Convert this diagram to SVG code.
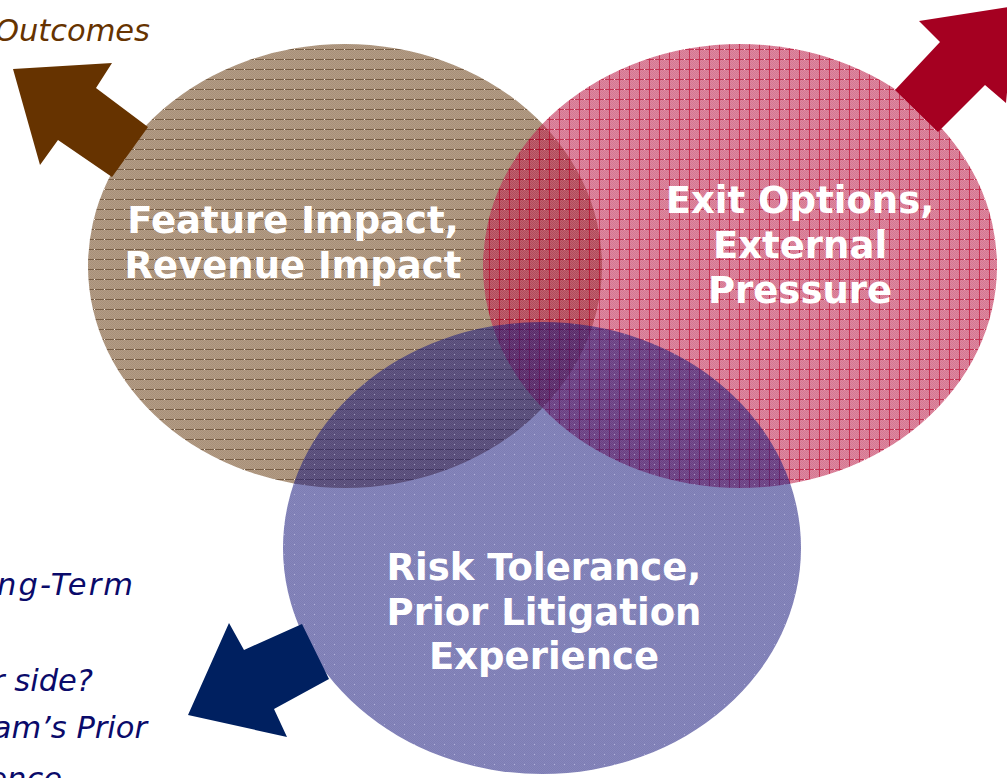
<svg xmlns="http://www.w3.org/2000/svg" width="1007" height="778" viewBox="0 0 1007 778">
  <style>
    .lbl { font-family: "DejaVu Sans", Verdana, sans-serif; font-weight: bold; font-size: 37px; fill: #ffffff; text-anchor: middle; }
    .note { font-family: "DejaVu Sans", Verdana, sans-serif; font-style: italic; font-size: 30.5px; text-anchor: end; }
    .brownNote { fill: #663300; }
    .blueNote { fill: #0a0a6a; }
  </style>
  <defs>
    <!-- fine halftone checkers (one translucent layer per pixel) -->
    <pattern id="chkBrown" width="2" height="2" patternUnits="userSpaceOnUse">
      <g fill-opacity="0.6">
        <rect width="1" height="1" fill="#6e4620"/>
        <rect x="1" width="1" height="1" fill="#7f5932"/>
        <rect y="1" width="1" height="1" fill="#7f5932"/>
        <rect x="1" y="1" width="1" height="1" fill="#6e4620"/>
      </g>
    </pattern>
    <pattern id="chkRed" width="2" height="2" patternUnits="userSpaceOnUse">
      <g fill-opacity="0.6">
        <rect width="1" height="1" fill="#b71e49"/>
        <rect x="1" width="1" height="1" fill="#c8375d"/>
        <rect y="1" width="1" height="1" fill="#c8375d"/>
        <rect x="1" y="1" width="1" height="1" fill="#b71e49"/>
      </g>
    </pattern>
    <pattern id="chkBlue" width="2" height="2" patternUnits="userSpaceOnUse">
      <g fill-opacity="0.54">
        <rect width="1" height="1" fill="#0e0e74"/>
        <rect x="1" width="1" height="1" fill="#202082"/>
        <rect y="1" width="1" height="1" fill="#202082"/>
        <rect x="1" y="1" width="1" height="1" fill="#0e0e74"/>
      </g>
    </pattern>
    <!-- horizontal rules -->
    <pattern id="fillBrown" width="10" height="10" patternUnits="userSpaceOnUse">
      <rect width="10" height="9" fill="url(#chkBrown)"/>
      <rect y="9" width="4" height="1" fill="#4a2808" fill-opacity="0.75"/>
      <rect x="5" y="9" width="5" height="1" fill="#4a2808" fill-opacity="0.75"/>
      <rect x="4" y="9" width="1" height="1" fill="#fff4e6" fill-opacity="0.75"/>
    </pattern>
    <!-- grid -->
    <pattern id="fillRed" width="10" height="10" patternUnits="userSpaceOnUse">
      <rect width="9" height="9" fill="url(#chkRed)"/>
      <rect y="9" width="4" height="1" fill="#b40028" fill-opacity="0.8"/>
      <rect x="5" y="9" width="5" height="1" fill="#b40028" fill-opacity="0.8"/>
      <rect x="9" width="1" height="9" fill="#b40028" fill-opacity="0.8"/>
      <rect x="4" y="9" width="1" height="1" fill="#ffe8ee" fill-opacity="0.75"/>
    </pattern>
    <!-- dotted -->
    <pattern id="fillBlue" width="10" height="10" patternUnits="userSpaceOnUse">
      <rect width="10" height="10" fill="url(#chkBlue)"/>
      <rect x="4" y="4" width="1" height="1" fill="#e6e6ff" fill-opacity="0.5"/>
    </pattern>
  </defs>

  <rect width="1007" height="778" fill="#ffffff"/>

  <g id="node-business">
    <ellipse cx="345" cy="266" rx="257" ry="222" fill="url(#fillBrown)"/>
    <text class="lbl" x="293" y="233">Feature Impact,</text>
    <text class="lbl" x="293" y="278">Revenue Impact</text>
  </g>

  <g id="node-market">
    <ellipse cx="740" cy="266" rx="257" ry="222" fill="url(#fillRed)"/>
    <text class="lbl" x="800" y="213">Exit Options,</text>
    <text class="lbl" x="800" y="258">External</text>
    <text class="lbl" x="800" y="303">Pressure</text>
  </g>

  <g id="node-risk">
    <ellipse cx="542" cy="548" rx="259" ry="226" fill="url(#fillBlue)"/>
    <text class="lbl" x="544" y="580">Risk Tolerance,</text>
    <text class="lbl" x="544" y="625">Prior Litigation</text>
    <text class="lbl" x="544" y="669">Experience</text>
  </g>

  <g id="connectors">
    <polygon points="13,69 112,63 96,88 148,127 112,177 58,140 40,165" fill="#663300"/>
    <polygon points="919,21 1015,6 1006,103 985,85 938,132 895,90 940,42" fill="#a50021"/>
    <polygon points="229,623 244,650 302,624 329,679 274,709 287,737 188,715" fill="#002060"/>
  </g>

  <g id="note-outcomes">
    <text class="note brownNote" x="150" y="41">Outcomes</text>
  </g>

  <g id="note-risk">
    <text class="note blueNote" x="133" y="595" textLength="136" lengthAdjust="spacing">ng-Term</text>
    <text class="note blueNote" x="93" y="691">r side?</text>
    <text class="note blueNote" x="147" y="738">am’s Prior</text>
    <text class="note blueNote" x="62" y="789">ence</text>
  </g>
</svg>
